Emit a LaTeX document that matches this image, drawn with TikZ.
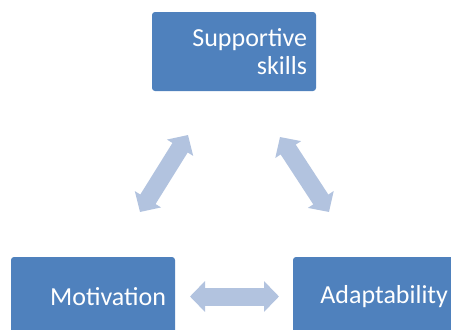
\documentclass[tikz,border=0pt]{standalone}
\usepackage{fontspec}
\setmainfont{Carlito}
\usetikzlibrary{arrows.meta}
\definecolor{boxblue}{HTML}{4F81BD}
\definecolor{arrowblue}{HTML}{B2C3DF}
\begin{document}
\begin{tikzpicture}[x=1pt,y=-1pt,
  block/.style={fill=boxblue, rounded corners=3pt, minimum width=164pt,
    minimum height=79pt, text width=146pt, align=right, inner xsep=9pt,
    text=white, font=\fontsize{26}{28}\selectfont},
  link/.style={arrowblue, line width=18pt,
    {Triangle[width=30pt,length=15pt]}-{Triangle[width=30pt,length=15pt]}}]
\useasboundingbox (0,0) rectangle (451,330);
% three rounded blocks
\node[block] (sup) at (234,51.5) {Supportive\\skills};
\node[block] (mot) at (93,296.5) {Motivation};
\node[block] (ada) at (375,296.5) {Adaptability};
% end points of the double-headed block arrows
\coordinate (l1) at (140,212);
\coordinate (l2) at (188,135);
\coordinate (r1) at (280,137);
\coordinate (r2) at (329,212);
\coordinate (h1) at (190,296.5);
\coordinate (h2) at (279,296.5);
\draw[link] (l1) -- (l2);
\draw[link] (r1) -- (r2);
\draw[link] (h1) -- (h2);
\end{tikzpicture}
\end{document}
